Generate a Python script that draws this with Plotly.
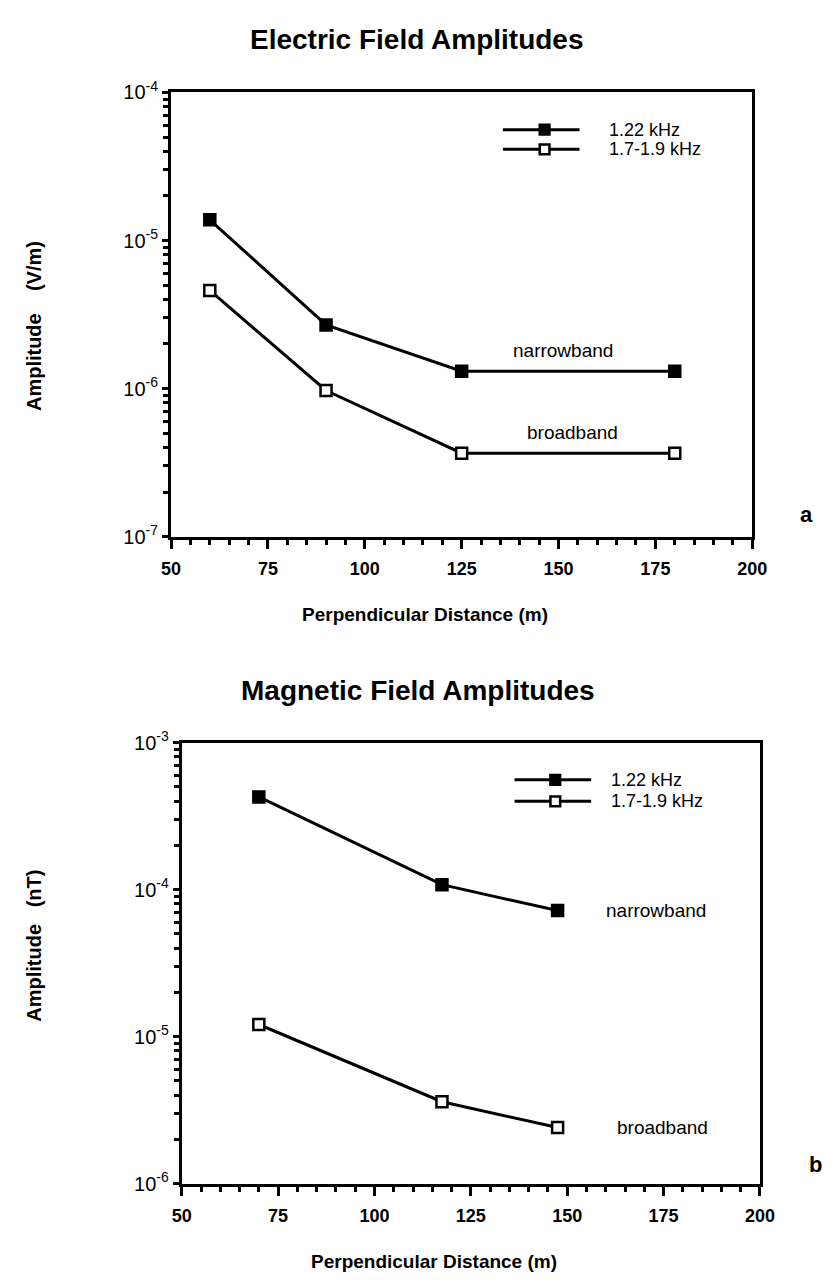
import plotly.graph_objects as go
import math

W, H = 840, 1283

# ---------------- data ----------------
# Panel a : Electric Field Amplitudes (V/m)
e_dist = [60, 90, 125, 180]
e_narrow = [1.38e-5, 2.69e-6, 1.31e-6, 1.31e-6]   # 1.22 kHz
e_broad = [4.6e-6, 9.7e-7, 3.66e-7, 3.66e-7]      # 1.7-1.9 kHz

# Panel b : Magnetic Field Amplitudes (nT)
m_dist = [70, 117.5, 147.5]
m_narrow = [4.27e-4, 1.08e-4, 7.2e-5]             # 1.22 kHz
m_broad = [1.21e-5, 3.61e-6, 2.41e-6]             # 1.7-1.9 kHz

legend_labels = ["1.22 kHz", "1.7-1.9 kHz"]
x_ticks = [50, 75, 100, 125, 150, 175, 200]
e_y_exps = [-7, -6, -5, -4]
m_y_exps = [-6, -5, -4, -3]

# ---------------- layout geometry (pixels) ----------------
A = dict(x0=166, x1=765, y0=80, y1=533)     # top panel plot area
B = dict(x0=177, x1=773, y0=743, y1=1193)   # bottom panel plot area


def xdom(p):
    return [p["x0"] / W, p["x1"] / W]


def ydom(p):
    return [(H - p["y1"]) / H, (H - p["y0"]) / H]


FONT = "Liberation Sans, Arial, Helvetica, sans-serif"

fig = go.Figure()


def add_series(x, y, xa, ya, filled):
    fig.add_trace(go.Scatter(
        x=x, y=y, xaxis=xa, yaxis=ya, mode="lines+markers",
        line=dict(color="black", width=3),
        marker=dict(symbol="square", size=11,
                    color="black" if filled else "white",
                    line=dict(color="black", width=2.5)),
        showlegend=False, hoverinfo="skip"))


add_series(e_dist, e_narrow, "x", "y", True)
add_series(e_dist, e_broad, "x", "y", False)
add_series(m_dist, m_narrow, "x2", "y2", True)
add_series(m_dist, m_broad, "x2", "y2", False)


def xaxis_cfg(p):
    return dict(domain=xdom(p), range=[50, 200], tickmode="array",
                tickvals=x_ticks, ticktext=[str(v) for v in x_ticks],
                ticks="outside", ticklen=9, tickwidth=3, tickcolor="black",
                ticklabelstandoff=5,
                minor=dict(ticks="outside", ticklen=5, tickwidth=3,
                           tickcolor="black", dtick=5, tick0=50),
                showline=True, linecolor="black", linewidth=3, mirror=True,
                showgrid=False, zeroline=False,
                tickfont=dict(family=FONT, size=18, color="black", weight="bold"))


def yaxis_cfg(p, exps):
    minor_vals = [m * 10.0 ** e for e in exps[:-1] for m in range(2, 10)]
    return dict(domain=ydom(p), type="log", range=[exps[0], exps[-1]],
                tickmode="array", tickvals=[10.0 ** e for e in exps],
                ticktext=["10<sup>-%d</sup>" % (-e) for e in exps],
                ticks="outside", ticklen=6, tickwidth=2.5, tickcolor="black",
                minor=dict(ticks="outside", ticklen=5, tickwidth=2.5,
                           tickcolor="black", tickvals=minor_vals),
                showline=True, linecolor="black", linewidth=3, mirror=True,
                showgrid=False, zeroline=False,
                tickfont=dict(family=FONT, size=20, color="black"))


fig.update_layout(
    width=W, height=H, margin=dict(l=0, r=0, t=0, b=0),
    paper_bgcolor="white", plot_bgcolor="white", showlegend=False,
    xaxis=dict(**xaxis_cfg(A), anchor="y"),
    yaxis=dict(**yaxis_cfg(A, e_y_exps), anchor="x"),
    xaxis2=dict(**xaxis_cfg(B), anchor="y2"),
    yaxis2=dict(**yaxis_cfg(B, m_y_exps), anchor="x2"),
)

shapes = []
ann = []

# ---------------- legends (drawn as shapes) ----------------
legend_geo = [
    # (x-axis, y-axis, panel, line x0, line x1, marker x, text x, row y's)
    ("x", "y", A, 508, 587, 551, 615, [118, 138]),
    ("x2", "y2", B, 520, 599, 562, 617, [781, 803]),
]
for xa, ya, p, lx0, lx1, mx, tx, rows in legend_geo:
    pw = p["x1"] - p["x0"]
    ph = p["y1"] - p["y0"]
    fx = lambda px: (px - p["x0"]) / pw
    fy = lambda py: (p["y1"] - py) / ph
    for i, (label, ry) in enumerate(zip(legend_labels, rows)):
        shapes.append(dict(type="line", xref=xa + " domain", yref=ya + " domain",
                           x0=fx(lx0), x1=fx(lx1), y0=fy(ry), y1=fy(ry),
                           line=dict(color="black", width=3)))
        hs = 5
        shapes.append(dict(type="rect", xref=xa + " domain", yref=ya + " domain",
                           x0=fx(mx - hs), x1=fx(mx + hs),
                           y0=fy(ry + hs), y1=fy(ry - hs),
                           fillcolor="black" if i == 0 else "white",
                           line=dict(color="black", width=2.5)))
        ann.append(dict(xref=xa + " domain", yref=ya + " domain",
                        x=fx(tx), y=fy(ry), xanchor="left", yanchor="middle",
                        text=label, showarrow=False,
                        font=dict(family=FONT, size=18, color="black")))

# ---------------- in-plot labels ----------------
band_labels = [
    ("x", "y", 151.2, e_narrow[-1] * 1.38, "narrowband"),
    ("x", "y", 153.5, e_broad[-1] * 1.38, "broadband"),
    ("x2", "y2", 173.0, m_narrow[-1], "narrowband"),
    ("x2", "y2", 174.6, m_broad[-1], "broadband"),
]
for xa, ya, x, y, t in band_labels:
    ann.append(dict(xref=xa, yref=ya, x=x, y=math.log10(y), text=t,
                    showarrow=False, xanchor="center", yanchor="middle",
                    font=dict(family=FONT, size=19, color="black")))


# ---------------- titles ----------------
def pix_ann(x, y, text, size, bold=True, angle=0):
    ann.append(dict(xref="paper", yref="paper", x=x / W, y=1 - y / H,
                    text="<b>%s</b>" % text if bold else text,
                    showarrow=False, xanchor="center", yanchor="middle",
                    textangle=angle,
                    font=dict(family=FONT, size=size, color="black")))


pix_ann(419, 26, "Electric Field Amplitudes", 28)
pix_ann(421, 690, "Magnetic Field Amplitudes", 28)
pix_ann(428, 612, "Perpendicular Distance (m)", 19)
pix_ann(437, 1272, "Perpendicular Distance (m)", 19)
pix_ann(25, 318, "Amplitude\u00a0\u00a0\u00a0\u00a0(V/m)", 20, angle=-90)
pix_ann(25, 950, "Amplitude\u00a0\u00a0\u00a0(nT)", 20, angle=-90)
pix_ann(821, 510, "a", 22)
pix_ann(830, 1173, "b", 22)

fig.update_layout(shapes=shapes, annotations=ann)
fig.write_html("out.html")
